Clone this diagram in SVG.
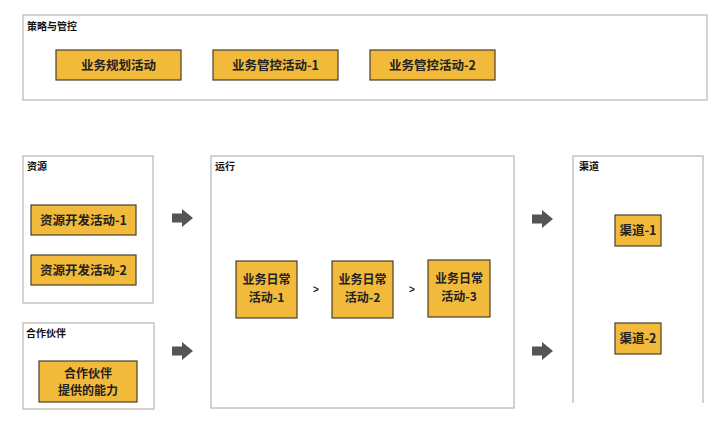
<svg xmlns="http://www.w3.org/2000/svg" width="720" height="425" viewBox="0 0 720 425">
<style>
.frame{fill:#fff;stroke:#c4c4c4;stroke-width:1.5}
.box{fill:#F1BA3B;stroke:#4a3f2c;stroke-width:1.2}
.lbl{font-family:"Noto Sans CJK SC","Liberation Sans",sans-serif;font-size:10px;font-weight:bold;fill:#111}
.t{font-family:"Noto Sans CJK SC","Liberation Sans",sans-serif;font-size:12.5px;font-weight:bold;fill:#222;text-anchor:middle}
.t2{font-family:"Noto Sans CJK SC","Liberation Sans",sans-serif;font-size:12px;font-weight:bold;fill:#222;text-anchor:middle}
.arr{fill:#555}
.gt{font-family:"Liberation Sans",sans-serif;font-size:10px;font-weight:bold;fill:#222;text-anchor:middle}
</style>
<rect width="720" height="425" fill="#fff"/>
<g id="strategy">
<rect class="frame" x="23" y="15" width="684" height="85"/>
<text class="lbl" x="27" y="30">策略与管控</text>
</g>
<g id="plan"><rect class="box" x="56" y="50" width="125" height="30"/><text class="t" x="118.5" y="69.5">业务规划活动</text></g>
<g id="control1"><rect class="box" x="213" y="50" width="125" height="30"/><text class="t" x="275.5" y="69.5">业务管控活动-1</text></g>
<g id="control2"><rect class="box" x="370" y="50" width="125" height="30"/><text class="t" x="432.5" y="69.5">业务管控活动-2</text></g>

<g id="resources">
<rect class="frame" x="23" y="156" width="130" height="147"/>
<text class="lbl" x="27" y="170">资源</text>
</g>
<g id="res1"><rect class="box" x="31" y="205" width="105" height="30"/><text class="t" x="83.5" y="224.5">资源开发活动-1</text></g>
<g id="res2"><rect class="box" x="31" y="255" width="105" height="30"/><text class="t" x="83.5" y="274.5">资源开发活动-2</text></g>

<g id="partners">
<rect class="frame" x="23" y="323" width="131" height="86"/>
<text class="lbl" x="26" y="337">合作伙伴</text>
</g>
<g id="partnerAbility"><rect class="box" x="39" y="361" width="98" height="41"/><text class="t2" x="88" y="377.5">合作伙伴</text><text class="t2" x="88" y="395">提供的能力</text></g>

<g id="operation">
<rect class="frame" x="211" y="156" width="303" height="252"/>
<text class="lbl" x="215" y="170">运行</text>
</g>
<g id="daily1"><rect class="box" x="236" y="261" width="61" height="57"/><text class="t2" x="266.5" y="284">业务日常</text><text class="t2" x="266.5" y="301.5">活动-1</text></g>
<g id="daily2"><rect class="box" x="332" y="261" width="61" height="57"/><text class="t2" x="362.5" y="284">业务日常</text><text class="t2" x="362.5" y="301.5">活动-2</text></g>
<g id="daily3"><rect class="box" x="428" y="260" width="62" height="57"/><text class="t2" x="459" y="283">业务日常</text><text class="t2" x="459" y="300.5">活动-3</text></g>

<g id="channels">
<rect x="573" y="156" width="130" height="250" fill="#fff"/>
<path d="M573,403V156H703V403" fill="none" stroke="#c4c4c4" stroke-width="1.5"/>
<text class="lbl" x="579" y="170">渠道</text>
</g>
<g id="ch1"><rect class="box" x="615" y="215" width="46" height="31"/><text class="t" x="638" y="235">渠道-1</text></g>
<g id="ch2"><rect class="box" x="615" y="323" width="46" height="31"/><text class="t" x="638" y="343">渠道-2</text></g>

<g id="connectors">
<path class="arr" d="M172,213.5H182V209L193,218L182,227V222.5H172Z"/>
<path class="arr" d="M172,346.5H182V342L193,351L182,360V355.5H172Z"/>
<path class="arr" d="M532,214.5H542V210L553,219L542,228V223.5H532Z"/>
<path class="arr" d="M532,346.5H542V342L553,351L542,360V355.5H532Z"/>
<text class="gt" x="316" y="293">&gt;</text>
<text class="gt" x="412" y="293">&gt;</text>
</g>
</svg>
